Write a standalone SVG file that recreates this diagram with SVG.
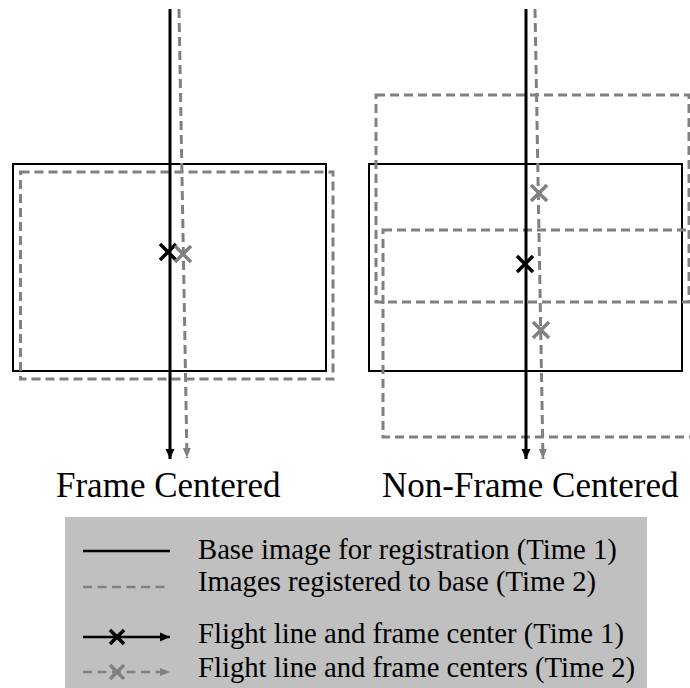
<svg xmlns="http://www.w3.org/2000/svg" width="690" height="688" viewBox="0 0 690 688">
<defs>
<style>
.base{fill:none;stroke:#000;stroke-width:2}
.reg{fill:none;stroke:#808080;stroke-width:3;stroke-dasharray:9 5}
.fl1{fill:none;stroke:#000;stroke-width:3}
.fl2{fill:none;stroke:#808080;stroke-width:3;stroke-dasharray:9 5}
.x1{stroke:#000;stroke-width:3.5;fill:none}
.x2{stroke:#808080;stroke-width:3.5;fill:none}
.title{font-family:"Liberation Serif","Times New Roman",serif;font-size:35px;fill:#000}
.leg{font-family:"Liberation Serif","Times New Roman",serif;font-size:28.7px;fill:#000}
</style>
<marker id="ah1" markerUnits="userSpaceOnUse" markerWidth="12" markerHeight="12" viewBox="0 0 12 12" refX="11" refY="6" orient="auto">
<path d="M1,1.5 L11,6 L1,10.5 Z" fill="#000"/>
</marker>
<marker id="ah2" markerUnits="userSpaceOnUse" markerWidth="12" markerHeight="12" viewBox="0 0 12 12" refX="11" refY="6" orient="auto">
<path d="M1,2 L11,6 L1,10 Z" fill="#808080"/>
</marker>
</defs>
<rect width="690" height="688" fill="#fff"/>

<g id="left-panel">
<g id="left-base"><rect class="base" x="13" y="164" width="313" height="207"/></g>
<g id="left-registered"><rect class="reg" x="20.5" y="172" width="312.5" height="207"/></g>
</g>

<g id="right-panel">
<g id="right-base"><rect class="base" x="369" y="164" width="313" height="207"/></g>
<g id="right-registered-top"><rect class="reg" x="376" y="95" width="313" height="207"/></g>
<g id="right-registered-bottom"><rect class="reg" x="383" y="230" width="313" height="207"/></g>
</g>

<g id="connectors">
<line class="fl1" x1="170" y1="9" x2="170" y2="459" marker-end="url(#ah1)"/>
<line class="fl2" x1="179" y1="9" x2="187" y2="458" marker-end="url(#ah2)"/>
<line class="fl1" x1="526" y1="9" x2="526" y2="459" marker-end="url(#ah1)"/>
<line class="fl2" x1="535" y1="9" x2="543" y2="459" marker-end="url(#ah2)"/>
</g>

<g id="centers">
<g id="left-center-t1"><path class="x1" d="M160,244 L176,260 M176,244 L160,260"/></g>
<g id="left-center-t2"><path class="x2" d="M175,246 L191,262 M191,246 L175,262"/></g>
<g id="right-center-t1"><path class="x1" d="M517,256 L533,272 M533,256 L517,272"/></g>
<g id="right-center-t2a"><path class="x2" d="M531,185 L547,201 M547,185 L531,201"/></g>
<g id="right-center-t2b"><path class="x2" d="M533,322 L549,338 M549,322 L533,338"/></g>
</g>

<g id="titles">
<text class="title" x="56" y="497">Frame Centered</text>
<text class="title" x="382" y="497">Non-Frame Centered</text>
</g>

<g id="legend">
<rect x="65" y="517" width="582" height="171" fill="#c0c0c0"/>
<line x1="83" y1="551" x2="170" y2="551" stroke="#000" stroke-width="2.5"/>
<line x1="83" y1="587" x2="170" y2="587" stroke="#808080" stroke-width="2.5" stroke-dasharray="9 5.5"/>
<line x1="83" y1="637" x2="170" y2="637" stroke="#000" stroke-width="2.5" marker-end="url(#ah1)"/>
<path class="x1" d="M110,630 L124,644 M124,630 L110,644"/>
<line x1="83" y1="672" x2="170" y2="672" stroke="#808080" stroke-width="2.5" stroke-dasharray="9 5.5" marker-end="url(#ah2)"/>
<path class="x2" d="M110,665 L124,679 M124,665 L110,679"/>
<text class="leg" x="198" y="559">Base image for registration (Time 1)</text>
<text class="leg" x="198" y="591">Images registered to base (Time 2)</text>
<text class="leg" x="198" y="643">Flight line and frame center (Time 1)</text>
<text class="leg" x="198" y="677">Flight line and frame centers (Time 2)</text>
</g>
</svg>
